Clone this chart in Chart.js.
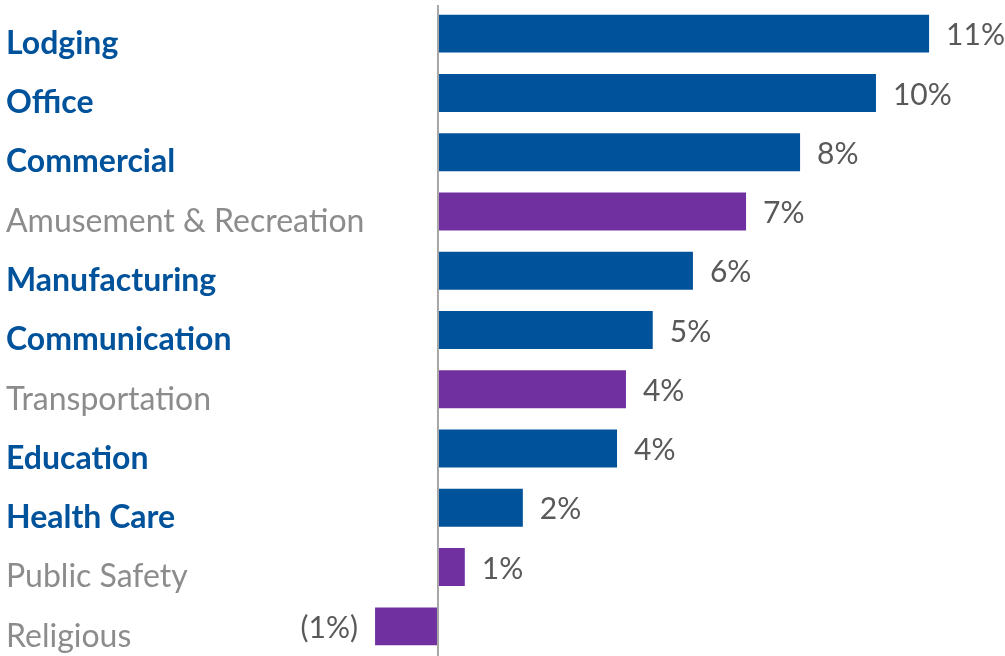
<!DOCTYPE html>
<html>
<head>
<meta charset="utf-8">
<script src="https://cdn.jsdelivr.net/npm/chart.js@4.4.1/dist/chart.umd.min.js"></script>
<style>
    html, body { margin: 0; padding: 0; background: #fff; }
    #wrap { width: 1005px; height: 656px; position: relative; }
</style>
</head>
<body>
<div id="wrap"><canvas id="growthChart"></canvas></div>
<script>
const SECTORS = [
    'Lodging', 'Office', 'Commercial', 'Amusement & Recreation', 'Manufacturing',
    'Communication', 'Transportation', 'Education', 'Health Care', 'Public Safety', 'Religious'
];
const GROWTH = [10.99, 9.80, 8.10, 6.89, 5.70, 4.80, 4.20, 4.00, 1.89, 0.59, -1.42];
// true = highlighted (bold blue label, blue bar), false = grey label, purple bar
const HIGHLIGHT = [true, true, true, false, true, true, false, true, true, false, false];

const BLUE = '#00529b';
const PURPLE = '#7030a0';
const FONT = 'Lato, "Open Sans", sans-serif';

function pctLabel(v) {
    const r = Math.round(Math.abs(v));
    return v < 0 ? '(' + r + '%)' : r + '%';
}

// grey line at zero, full height of the plot
const zeroLine = {
    id: 'zeroLine',
    afterDatasetsDraw(chart) {
        const c = chart.ctx;
        const x = chart.scales.x.getPixelForValue(0);
        const area = chart.chartArea;
        c.save();
        c.strokeStyle = '#a6a6a6';
        c.lineWidth = 2;
        c.beginPath();
        c.moveTo(x - 0.5, area.top + 1);
        c.lineTo(x - 0.5, area.bottom);
        c.stroke();
        c.restore();
    }
};

// value text beside the end of each bar
const valueLabels = {
    id: 'valueLabels',
    afterDatasetsDraw(chart) {
        const c = chart.ctx;
        const meta = chart.getDatasetMeta(0);
        c.save();
        c.font = '30px ' + FONT;
        c.fillStyle = '#595959';
        c.textBaseline = 'middle';
        meta.data.forEach((bar, i) => {
            const v = GROWTH[i];
            if (v < 0) {
                c.textAlign = 'right';
                c.fillText(pctLabel(v), bar.x - 17, bar.y + 2);
            } else {
                c.textAlign = 'left';
                c.fillText(pctLabel(v), bar.x + 17, bar.y + 2);
            }
        });
        c.restore();
    }
};

const ctx = document.getElementById('growthChart').getContext('2d');
const growthChart = new Chart(ctx, {
    type: 'bar',
    data: {
        labels: SECTORS,
        datasets: [{
            data: GROWTH,
            backgroundColor: HIGHLIGHT.map(h => h ? BLUE : PURPLE),
            borderWidth: 0,
            barPercentage: 0.64,
            categoryPercentage: 1
        }]
    },
    options: {
        indexAxis: 'y',
        responsive: true,
        maintainAspectRatio: false,
        animation: false,
        layout: { padding: { left: 6, right: 8.5, top: 4, bottom: 0 } },
        scales: {
            x: {
                display: false,
                min: -1.5,
                max: 12.5
            },
            y: {
                border: { display: false },
                grid: { display: false, drawTicks: false },
                afterFit(scale) {
                    scale.width = 365.5;
                    scale.paddingTop = 0;
                    scale.paddingBottom = 0;
                },
                ticks: {
                    crossAlign: 'far',
                    labelOffset: 10,
                    padding: 0,
                    color: c => HIGHLIGHT[c.index] ? BLUE : '#8c8c8c',
                    font: c => ({
                        family: FONT,
                        size: 32,
                        weight: HIGHLIGHT[c.index] ? 'bold' : 'normal'
                    })
                }
            }
        },
        plugins: {
            legend: { display: false },
            tooltip: { enabled: false }
        }
    },
    plugins: [zeroLine, valueLabels]
});
</script>
</body>
</html>
